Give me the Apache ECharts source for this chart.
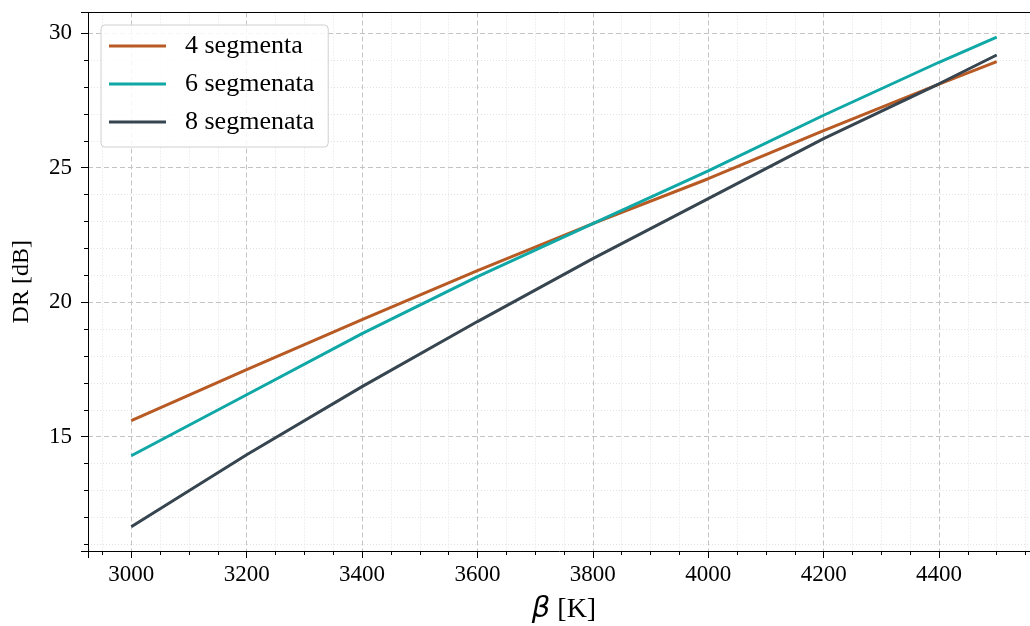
<!DOCTYPE html>
<html><head><meta charset="utf-8">
<script src="https://cdn.jsdelivr.net/npm/echarts@6/dist/echarts.min.js"></script>
<style>html,body{margin:0;padding:0;background:#fff}#c{width:1030px;height:626px}</style>
</head><body><div id="c"></div>
<script>
const betaK = [3000, 3200, 3400, 3600, 3800, 4000, 4200, 4400, 4500];
const seg4 = [15.60, 17.49, 19.35, 21.17, 22.92, 24.59, 26.38, 28.11, 28.94];
const seg6 = [14.29, 16.56, 18.83, 20.95, 22.92, 24.88, 26.95, 28.92, 29.85];
const seg8 = [11.65, 14.33, 16.86, 19.28, 21.62, 23.85, 26.08, 28.12, 29.19];
const seriesNames = ['4 segmenta', '6 segmenata', '8 segmenata'];
const seriesValues = [seg4, seg6, seg8];
const colors = ['#b85a24', '#0fa8a6', '#36454f'];
const xTitle = 'β';
const xUnit = ' [K]';
const yTitle = 'DR [dB]';

const serif = 'Liberation Serif';
const chart = echarts.init(document.getElementById('c'), null, {renderer: 'canvas'});

function axisCommon() {
  return {
    axisLine: {show: true, lineStyle: {color: '#000', width: 1}},
    axisTick: {show: true, length: 7, lineStyle: {color: '#000', width: 1}},
    splitLine: {show: true, lineStyle: {type: [5, 3], color: '#c4c4c4', width: 1}},
    minorSplitLine: {show: true, lineStyle: {type: [1, 2], color: '#e2e2e2', width: 1}},
  };
}
const plainNum = v => String(Math.round(v));

const option = {
  animation: false,
  backgroundColor: '#fff',
  grid: {left: 88, top: 12.5, width: 952, height: 538.5, containLabel: false, outerBoundsMode: 'none'},
  legend: {
    orient: 'vertical', left: 101, top: 25,
    data: seriesNames,
    icon: 'rect', itemWidth: 57, itemHeight: 3, itemGap: 12,
    padding: [8, 14, 12, 8],
    backgroundColor: 'rgba(255,255,255,0.85)',
    borderColor: '#d0d0d0', borderWidth: 1, borderRadius: 4,
    textStyle: {fontFamily: serif, fontSize: 26, color: '#000', lineHeight: 26, padding: [0, 0, 0, 14]},
  },
  xAxis: [Object.assign(axisCommon(), {
    type: 'value', min: 2925, max: 4575, splitNumber: 8,
    minorTick: {show: true, splitNumber: 4, length: 4, lineStyle: {color: '#000'}},
    axisLabel: {showMinLabel: false, showMaxLabel: false, fontFamily: serif, fontSize: 23, color: '#000', margin: 12, formatter: plainNum},
    name: '{b|' + xTitle + '}{n|' + xUnit + '}',
    nameLocation: 'middle', nameGap: 44,
    nameTextStyle: {
      rich: {
        b: {fontFamily: 'DejaVu Sans', fontStyle: 'italic', fontSize: 29, color: '#000'},
        n: {fontFamily: serif, fontSize: 28, color: '#000'}
      }
    }
  }), {
    type: 'value', position: 'top', min: 2925, max: 4575, splitNumber: 8,
    axisLine: {show: true, onZero: false, lineStyle: {color: '#000', width: 1}},
    axisTick: {show: false}, axisLabel: {show: false}, splitLine: {show: false}
  }],
  yAxis: Object.assign(axisCommon(), {
    type: 'value', min: 10.75, max: 30.77, splitNumber: 4,
    minorTick: {show: true, splitNumber: 5, length: 4, lineStyle: {color: '#000'}},
    axisLabel: {showMinLabel: false, showMaxLabel: false, fontFamily: serif, fontSize: 23, color: '#000', margin: 16, formatter: plainNum},
    name: yTitle, nameLocation: 'middle', nameGap: 54, nameRotate: 90,
    nameTextStyle: {fontFamily: serif, fontSize: 24, color: '#000'}
  }),
  series: seriesNames.map((n, k) => ({
    name: n, type: 'line', symbol: 'none', clip: true, xAxisIndex: 0,
    data: betaK.map((x, i) => [x, seriesValues[k][i]]),
    lineStyle: {color: colors[k], width: 3},
    itemStyle: {color: colors[k]}
  }))
};
chart.setOption(option);
</script></body></html>
